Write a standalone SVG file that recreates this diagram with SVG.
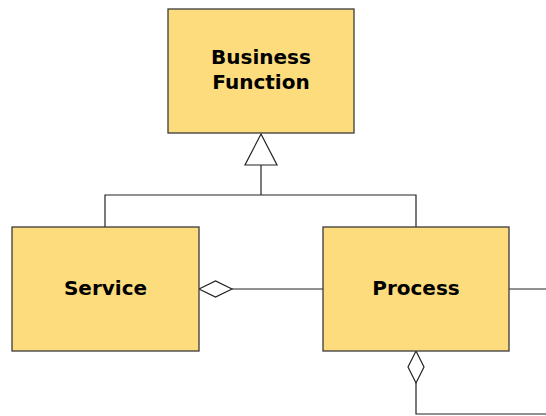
<svg xmlns="http://www.w3.org/2000/svg" width="546" height="416" viewBox="0 0 546 416">
  <style>
    .node { fill: #fddc7e; stroke: #3a3a3a; stroke-width: 1.3; }
    .label { font-family: "DejaVu Sans", Verdana, sans-serif; font-weight: bold; font-size: 20px; fill: #000; text-anchor: middle; }
    .edge { fill: none; stroke: #222; stroke-width: 1.2; }
    .head { fill: #fff; stroke: #222; stroke-width: 1.2; }
  </style>
  <rect width="546" height="416" fill="#fff"/>

  <g id="connectors">
    <!-- generalization: Service / Process to Business Function -->
    <polyline class="edge" points="105,227 105,195 416,195 416,227"/>
    <line class="edge" x1="261" y1="195" x2="261" y2="165"/>
    <polygon class="head" points="261,134 277,165 245,165"/>
    <!-- aggregation: Process to Service -->
    <line class="edge" x1="232" y1="289" x2="323" y2="289"/>
    <polygon class="head" points="199,289 215.5,281 232,289 215.5,297"/>
    <!-- outgoing from Process -->
    <line class="edge" x1="509" y1="289" x2="546" y2="289"/>
    <polyline class="edge" points="416,383 416,414 546,414"/>
    <polygon class="head" points="416,351 424,367 416,383 408,367"/>
  </g>

  <g id="business-function">
    <rect class="node" x="168" y="9" width="186" height="124"/>
    <text class="label" x="261" y="64">Business</text>
    <text class="label" x="261" y="89">Function</text>
  </g>

  <g id="service">
    <rect class="node" x="12" y="227" width="187" height="124"/>
    <text class="label" x="105.5" y="295">Service</text>
  </g>

  <g id="process">
    <rect class="node" x="323" y="227" width="186" height="124"/>
    <text class="label" x="416" y="295">Process</text>
  </g>
</svg>
